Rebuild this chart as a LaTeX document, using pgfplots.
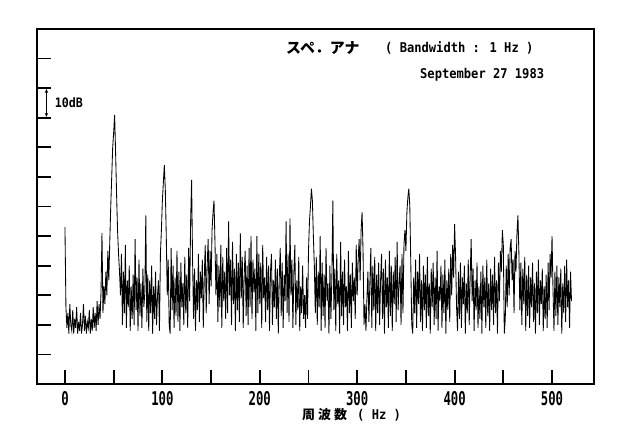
\documentclass[border=0pt]{standalone}
\usepackage{fontspec}
\usepackage{pgfplots}
\pgfplotsset{compat=1.18}
\usetikzlibrary{arrows.meta}
\setmainfont{DejaVu Sans Mono}
\newfontfamily\tickfont{DejaVu Sans Mono}[FakeStretch=0.65]
\newfontfamily\titlefont{DejaVu Sans Mono}[FakeStretch=0.9]
\newfontfamily\jp{Noto Sans CJK JP}
\begin{document}
\begin{tikzpicture}[x=1bp,y=1bp]
\useasboundingbox (0,0) rectangle (632,439);
\begin{axis}[at={(37bp,55bp)}, anchor=south west, scale only axis,
  width=557bp, height=355bp,
  xmin=-28.7, xmax=543.1, ymin=0, ymax=120,
  axis line style={line width=2.5bp, black},
  xtick={0,100,...,500}, xticklabels={0,100,200,300,400,500},
  minor xtick={50,150,...,450},
  ytick={10,20,...,110}, yticklabels={},
  tick align=inside, xtick pos=lower, ytick pos=left,
  major tick length=14bp, minor tick length=14bp,
  tick style={line width=1.8bp, black},
  xticklabel style={font=\tickfont\bfseries\fontsize{19}{19}\selectfont, yshift=-4bp},
]
\addplot[black, line width=0.85bp, mark=none] table[x expr=\coordindex, y index=0, row sep=\\] {
y\\
53\\26\\19\\24\\17\\27\\20\\18\\25\\17\\22\\
19\\26\\17\\21\\18\\24\\17\\20\\27\\18\\
23\\17\\21\\19\\25\\17\\22\\18\\26\\19\\
24\\18\\28\\20\\27\\
22\\31\\51\\24\\33\\27\\38\\30\\45\\35\\48\\
60\\70\\80\\85\\91\\78\\64\\52\\44\\38\\
30\\44\\20\\38\\24\\47\\19\\35\\26\\40\\
18\\33\\22\\37\\20\\49\\25\\36\\18\\42\\
23\\34\\19\\39\\26\\31\\57\\21\\37\\18\\
35\\24\\40\\17\\33\\22\\38\\20\\30\\
35\\18\\44\\52\\62\\68\\74\\66\\50\\30\\42\\
20\\17\\46\\25\\40\\19\\36\\23\\45\\
21\\38\\18\\41\\26\\34\\20\\43\\24\\37\\
19\\46\\28\\55\\69\\42\\22\\39\\18\\35\\
25\\44\\21\\38\\29\\42\\19\\36\\47\\24\\
40\\49\\27\\45\\33\\52\\58\\62\\48\\30\\
44\\21\\40\\26\\47\\19\\43\\28\\38\\22\\
46\\24\\55\\30\\42\\20\\48\\27\\39\\18\\
44\\25\\41\\21\\51\\29\\43\\19\\37\\45\\
23\\40\\20\\46\\26\\50\\22\\42\\31\\39\\
18\\50\\24\\44\\27\\41\\19\\47\\29\\36\\
21\\43\\25\\40\\18\\38\\44\\20\\35\\26\\
42\\22\\39\\17\\36\\46\\23\\41\\19\\37\\
28\\55\\24\\44\\21\\56\\30\\42\\19\\38\\
47\\20\\35\\25\\43\\18\\33\\24\\40\\22\\
30\\19\\36\\22\\45\\55\\60\\66\\62\\50\\
40\\24\\43\\20\\38\\26\\50\\18\\41\\23\\
37\\19\\46\\28\\34\\17\\40\\22\\36\\62\\
25\\39\\18\\44\\27\\35\\17\\48\\23\\38\\
20\\42\\26\\33\\18\\45\\24\\37\\19\\41\\
28\\36\\22\\47\\30\\42\\49\\35\\52\\58\\
45\\20\\27\\18\\29\\38\\21\\34\\46\\19\\
40\\25\\43\\18\\37\\24\\41\\20\\35\\44\\
22\\39\\17\\42\\26\\36\\19\\45\\23\\40\\
18\\38\\27\\43\\21\\48\\25\\34\\40\\20\\
44\\24\\47\\52\\45\\58\\63\\66\\60\\41\\
20\\17\\36\\24\\42\\19\\38\\27\\44\\21\\
35\\18\\40\\25\\37\\19\\43\\23\\34\\17\\
39\\26\\41\\20\\36\\22\\45\\18\\33\\28\\
40\\19\\37\\24\\42\\17\\35\\25\\39\\21\\
44\\30\\47\\36\\54\\43\\26\\18\\38\\22\\
41\\19\\36\\27\\40\\17\\34\\24\\42\\20\\
37\\49\\28\\39\\18\\35\\25\\41\\19\\33\\
22\\38\\17\\40\\26\\36\\19\\42\\23\\34\\
18\\39\\25\\37\\20\\43\\24\\35\\17\\41\\
28\\45\\38\\52\\47\\17\\22\\40\\26\\44\\
30\\46\\49\\35\\42\\24\\45\\38\\51\\57\\
44\\25\\41\\20\\39\\27\\43\\18\\37\\23\\
40\\19\\36\\26\\41\\21\\34\\17\\38\\24\\
42\\20\\35\\27\\39\\18\\33\\22\\37\\19\\
41\\25\\44\\36\\50\\32\\18\\38\\23\\40\\
20\\36\\26\\39\\17\\34\\24\\40\\21\\42\\
26\\35\\19\\38\\28\\
};
\draw[{Stealth[length=4bp,width=3.5bp]}-{Stealth[length=4bp,width=3.5bp]}, line width=1bp] (axis cs:-19,90.3) -- (axis cs:-19,99.7);
\node[anchor=west, inner sep=0, font=\titlefont\bfseries\fontsize{13}{13}\selectfont] at (axis cs:-10.5,95) {10dB};
\end{axis}
\node[anchor=west, inner sep=0, font=\jp\bfseries\fontsize{15}{15}\selectfont] at (286,391) {スペ．アナ};
\node[anchor=west, inner sep=0, font=\titlefont\bfseries\fontsize{13.5}{13.5}\selectfont] at (385,391) {( Bandwidth : 1 Hz )};
\node[anchor=west, inner sep=0, font=\titlefont\bfseries\fontsize{13.5}{13.5}\selectfont] at (420,364) {September 27 1983};
\node[anchor=west, inner sep=0, font=\jp\bfseries\fontsize{13}{13}\selectfont] at (302,24) {周\kern3bp 波\kern3bp 数};
\node[anchor=west, inner sep=0, font=\titlefont\bfseries\fontsize{13.5}{13.5}\selectfont] at (357,24) {( Hz )};
\end{tikzpicture}
\end{document}
